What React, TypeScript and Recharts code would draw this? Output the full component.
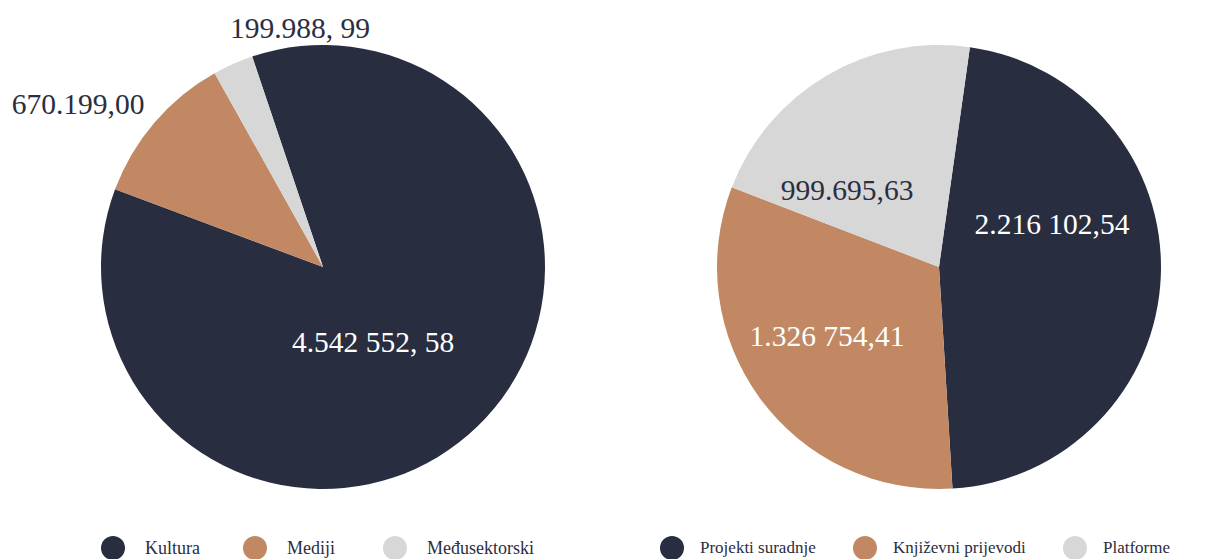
import { PieChart, Pie, Cell } from "recharts"

// left pie: programme areas
const leftNames = ["Kultura", "Mediji", "Međusektorski"]
const leftValues = [4542552.58, 592000, 156000]
const leftLabels = ["4.542 552, 58", "670.199,00", "199.988, 99"]

// right pie: Kultura sub-areas
const rightNames = ["Projekti suradnje", "Književni prijevodi", "Platforme"]
const rightValues = [2216102.54, 1506000, 1012000]
const rightLabels = ["2.216 102,54", "1.326 754,41", "999.695,63"]

const COLORS = ["#282d3f", "#c18863", "#d7d7d7"]
const TEXT = "#2a2e40"
const FONT = "'Liberation Serif', 'Times New Roman', serif"

// label placement relative to pie centre (px) and colour
const LEFT_LABEL_POS = [
  { dx: 50, dy: 75, fill: "#ffffff" },
  { dx: -245, dy: -163, fill: TEXT },
  { dx: -23, dy: -239, fill: TEXT },
]
const RIGHT_LABEL_POS = [
  { dx: 113, dy: -43, fill: "#ffffff" },
  { dx: -112, dy: 69, fill: "#ffffff" },
  { dx: -92, dy: -77, fill: TEXT },
]

const LEFT_LEGEND_W = [142, 140, 160]
const RIGHT_LEGEND_W = [193, 210, 200]

function makeLabel(texts: string[], pos: { dx: number; dy: number; fill: string }[]) {
  return (props: any) => {
    const { cx, cy, index } = props
    const p = pos[index]
    return (
      <text
        x={cx + p.dx}
        y={cy + p.dy}
        fill={p.fill}
        textAnchor="middle"
        dominantBaseline="central"
        style={{ fontFamily: FONT, fontSize: 29.5 }}
      >
        {texts[index]}
      </text>
    )
  }
}

function LegendRow({
  names,
  widths,
  left,
  fontSize,
  gap,
}: {
  names: string[]
  widths: number[]
  left: number
  fontSize: number
  gap: number
}) {
  return (
    <div style={{ position: "absolute", left, top: 536, display: "flex", whiteSpace: "nowrap" }}>
      {names.map((n, i) => (
        <div key={n} style={{ width: widths[i], display: "flex", alignItems: "center", flexShrink: 0 }}>
          <span
            style={{
              width: 24,
              height: 24,
              borderRadius: "50%",
              background: COLORS[i],
              display: "inline-block",
              marginRight: gap,
              flexShrink: 0,
            }}
          />
          <span style={{ fontFamily: FONT, fontSize, color: TEXT, lineHeight: "24px" }}>{n}</span>
        </div>
      ))}
    </div>
  )
}

export default function App() {
  const leftData = leftNames.map((name, i) => ({ name, value: leftValues[i] }))
  const rightData = rightNames.map((name, i) => ({ name, value: rightValues[i] }))

  return (
    <div
      style={{
        position: "fixed",
        left: 0,
        top: 0,
        width: 1216,
        height: 559,
        overflow: "hidden",
        background: "#ffffff",
      }}
    >
      <div style={{ position: "absolute", left: 0, top: 0 }}>
        <PieChart width={608} height={559} margin={{ top: 0, right: 0, bottom: 0, left: 0 }}>
          <Pie
            data={leftData}
            dataKey="value"
            nameKey="name"
            cx={323}
            cy={267}
            outerRadius={222}
            startAngle={108.6}
            endAngle={-251.4}
            stroke="none"
            labelLine={false}
            label={makeLabel(leftLabels, LEFT_LABEL_POS)}
            isAnimationActive={false}
          >
            {leftData.map((d, i) => (
              <Cell key={d.name} fill={COLORS[i]} />
            ))}
          </Pie>
        </PieChart>
      </div>
      <div style={{ position: "absolute", left: 608, top: 0 }}>
        <PieChart width={608} height={559} margin={{ top: 0, right: 0, bottom: 0, left: 0 }}>
          <Pie
            data={rightData}
            dataKey="value"
            nameKey="name"
            cx={331}
            cy={267}
            outerRadius={222}
            startAngle={82}
            endAngle={-278}
            stroke="none"
            labelLine={false}
            label={makeLabel(rightLabels, RIGHT_LABEL_POS)}
            isAnimationActive={false}
          >
            {rightData.map((d, i) => (
              <Cell key={d.name} fill={COLORS[i]} />
            ))}
          </Pie>
        </PieChart>
      </div>
      <LegendRow names={leftNames} widths={LEFT_LEGEND_W} left={101} fontSize={18} gap={20} />
      <LegendRow names={rightNames} widths={RIGHT_LEGEND_W} left={660} fontSize={17} gap={16} />
    </div>
  )
}
